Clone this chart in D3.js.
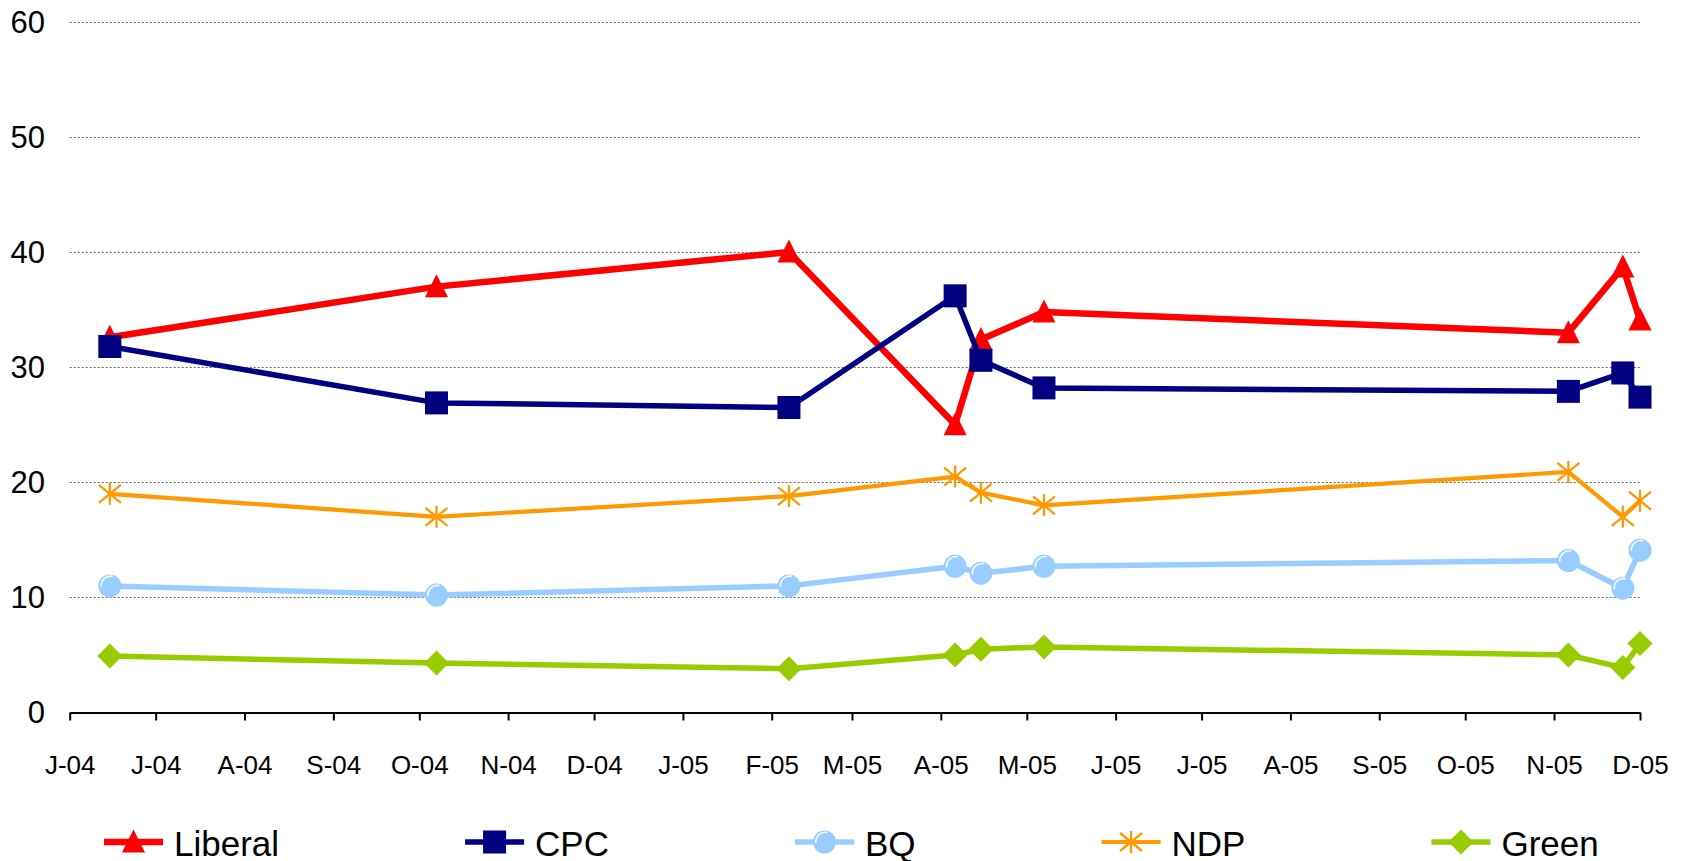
<!DOCTYPE html>
<html>
<head>
<meta charset="utf-8">
<script src="https://cdn.jsdelivr.net/npm/d3@7"></script>
<style>
  body { margin: 0; background: #fff; }
  svg { display: block; font-family: "Liberation Sans", Arial, sans-serif; }
</style>
</head>
<body>
<svg id="chart" width="1686" height="861"></svg>
<script>
// poll dates and party shares (%)
var dates = ["2004-06-15", "2004-10-07", "2005-02-07", "2005-04-06", "2005-04-15",
             "2005-05-07", "2005-11-06", "2005-11-25", "2005-12-01"];
var liberal = [32.6, 37.0, 40.0, 25.0, 32.4, 34.8, 33.0, 38.7, 34.1];
var cpc     = [31.8, 26.9, 26.5, 36.2, 30.6, 28.2, 27.9, 29.5, 27.4];
var bq      = [11.0, 10.2, 11.0, 12.7, 12.1, 12.7, 13.2, 10.8, 14.1];
var ndp     = [19.0, 17.0, 18.8, 20.5, 19.1, 18.0, 20.9, 17.0, 18.4];
var green   = [4.9, 4.3, 3.8, 5.0, 5.5, 5.7, 5.0, 3.9, 6.0];
var yTicks  = [0, 10, 20, 30, 40, 50, 60];

var series = [
  {name: "Liberal", values: liberal, color: "#ff0000", width: 6.5, marker: "triangle"},
  {name: "CPC",     values: cpc,     color: "#000080", width: 5.5, marker: "square"},
  {name: "BQ",      values: bq,      color: "#99ccff", width: 5.5, marker: "circle"},
  {name: "NDP",     values: ndp,     color: "#ff9900", width: 4.2, marker: "star"},
  {name: "Green",   values: green,   color: "#99cc00", width: 5.5, marker: "diamond"}
];

var parse = d3.utcParse("%Y-%m-%d");
var start = parse("2004-06-01"), end = parse("2005-12-01");

var svg = d3.select("#chart");

var x = d3.scaleUtc().domain([start, end]).range([69.7, 1640]);
var y = d3.scaleLinear().domain([0, 60]).range([712.5, 21.9]);

// gridlines
svg.append("g")
  .selectAll("line")
  .data(yTicks.filter(function(d) { return d > 0; }))
  .join("line")
    .attr("x1", 69.7).attr("x2", 1640)
    .attr("y1", function(d) { return Math.round(y(d)) + 0.5; })
    .attr("y2", function(d) { return Math.round(y(d)) + 0.5; })
    .attr("stroke", "#666")
    .attr("stroke-width", 1)
    .attr("stroke-dasharray", "2,2");

// y labels (no axis line)
svg.append("g")
  .selectAll("text")
  .data(yTicks)
  .join("text")
    .attr("x", 45)
    .attr("y", function(d) { return y(d); })
    .attr("dy", "0.35em")
    .attr("text-anchor", "end")
    .attr("font-size", "31px")
    .attr("fill", "#000")
    .text(function(d) { return d; });

// x axis
var months = d3.utcMonth.range(start, d3.utcDay.offset(end, 1));
var fmtMonth = d3.utcFormat("%b"), fmtYear = d3.utcFormat("%y");
var xAxis = d3.axisBottom(x)
  .tickValues(months)
  .tickSize(8)
  .tickPadding(0)
  .tickSizeOuter(0)
  .tickFormat(function(d) { return fmtMonth(d).charAt(0) + "-" + fmtYear(d); });

var gx = svg.append("g")
  .attr("transform", "translate(0," + y(0) + ")")
  .call(xAxis);
gx.select(".domain").attr("stroke", "#000").attr("stroke-width", 2);
gx.selectAll(".tick line").attr("stroke", "#000").attr("stroke-width", 2);
gx.selectAll(".tick text")
  .attr("font-family", "Liberation Sans, Arial, sans-serif")
  .attr("font-size", "26px")
  .attr("fill", "#000")
  .attr("dy", null)
  .attr("y", 61.5);

// markers
function drawMarker(g, type, color, cx, cy) {
  if (type === "triangle") {
    g.append("path")
      .attr("d", "M" + cx + "," + (cy - 12.5) + "L" + (cx + 11.5) + "," + (cy + 10.5) + "L" + (cx - 11.5) + "," + (cy + 10.5) + "Z")
      .attr("fill", color);
  } else if (type === "square") {
    g.append("rect")
      .attr("x", cx - 11.5).attr("y", cy - 11.5)
      .attr("width", 23).attr("height", 23)
      .attr("fill", color);
  } else if (type === "circle") {
    g.append("circle").attr("cx", cx).attr("cy", cy).attr("r", 11.5).attr("fill", color);
    g.append("path")
      .attr("d", "M" + (cx - 8.5) + "," + (cy + 1) + "A9.5,9.5 0 0 1 " + (cx + 3) + "," + (cy - 9.5))
      .attr("fill", "none").attr("stroke", "#fff").attr("stroke-width", 1.6)
      .attr("stroke-opacity", 0.9);
  } else if (type === "star") {
    g.append("path")
      .attr("d", "M" + cx + "," + (cy - 11) + "V" + (cy + 11) +
                 "M" + (cx - 11) + "," + (cy - 9) + "L" + (cx + 11) + "," + (cy + 9) +
                 "M" + (cx + 11) + "," + (cy - 9) + "L" + (cx - 11) + "," + (cy + 9))
      .attr("stroke", color).attr("stroke-width", 2.3).attr("fill", "none");
  } else if (type === "diamond") {
    g.append("path")
      .attr("d", "M" + cx + "," + (cy - 12.5) + "L" + (cx + 12.5) + "," + cy + "L" + cx + "," + (cy + 12.5) + "L" + (cx - 12.5) + "," + cy + "Z")
      .attr("fill", color);
  }
}

var line = d3.line()
  .x(function(d, i) { return x(parse(dates[i])); })
  .y(function(d) { return y(d); });

series.forEach(function(s) {
  var g = svg.append("g");
  g.append("path")
    .attr("d", line(s.values))
    .attr("fill", "none")
    .attr("stroke", s.color)
    .attr("stroke-width", s.width)
    .attr("stroke-linejoin", "round");
  s.values.forEach(function(v, i) {
    drawMarker(g, s.marker, s.color, x(parse(dates[i])), y(v));
  });
});

// legend
var lx = 104, ly = 842;
series.forEach(function(s) {
  var g = svg.append("g");
  g.append("line")
    .attr("x1", lx).attr("x2", lx + 59)
    .attr("y1", ly).attr("y2", ly)
    .attr("stroke", s.color).attr("stroke-width", s.width);
  drawMarker(g, s.marker, s.color, lx + 29.5, ly);
  var t = g.append("text")
    .attr("x", lx + 70)
    .attr("y", ly + 13.5)
    .attr("font-size", "35px")
    .attr("fill", "#000")
    .text(s.name);
  lx = lx + 70 + t.node().getComputedTextLength() + 186;
});
</script>
</body>
</html>
